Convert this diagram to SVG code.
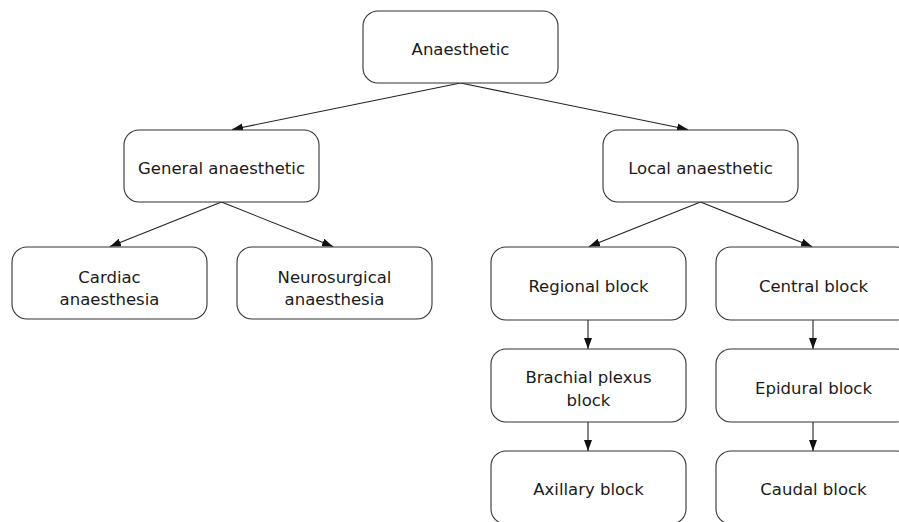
<svg xmlns="http://www.w3.org/2000/svg" width="899" height="522" viewBox="0 0 899 522">
<style>
.box{fill:#fff;stroke:#333;stroke-width:1.1}
.lbl{font-family:"DejaVu Sans","Liberation Sans",sans-serif;font-size:16.5px;fill:#1a1a1a;text-anchor:middle}
.edge{stroke:#222;stroke-width:1.1;fill:none;marker-end:url(#ah)}
</style>
<defs>
<marker id="ah" viewBox="0 0 11 8" refX="11" refY="4" markerWidth="11" markerHeight="8" markerUnits="userSpaceOnUse" orient="auto">
<path d="M0,0 L11,4 L0,8 Z" fill="#111"/>
</marker>
</defs>
<rect width="899" height="522" fill="#fff"/>
<g id="connectors">
<line class="edge" x1="460.5" y1="83" x2="232" y2="129.5"/>
<line class="edge" x1="460.5" y1="83" x2="688" y2="129.5"/>
<line class="edge" x1="221.5" y1="202" x2="110" y2="246.5"/>
<line class="edge" x1="221.5" y1="202" x2="333" y2="246.5"/>
<line class="edge" x1="700.5" y1="202" x2="589" y2="246.5"/>
<line class="edge" x1="700.5" y1="202" x2="812" y2="246.5"/>
<line class="edge" x1="588" y1="320" x2="588" y2="349"/>
<line class="edge" x1="588" y1="422" x2="588" y2="451"/>
<line class="edge" x1="813" y1="320" x2="813" y2="349"/>
<line class="edge" x1="813" y1="422" x2="813" y2="451"/>
</g>
<g id="anaesthetic">
<rect class="box" x="363" y="11" width="195" height="72" rx="15"/>
<text class="lbl" x="460.5" y="55">Anaesthetic</text>
</g>
<g id="general">
<rect class="box" x="124" y="130" width="195" height="72" rx="15"/>
<text class="lbl" x="221.5" y="174">General anaesthetic</text>
</g>
<g id="local">
<rect class="box" x="603" y="130" width="195" height="72" rx="15"/>
<text class="lbl" x="700.5" y="174">Local anaesthetic</text>
</g>
<g id="cardiac">
<rect class="box" x="12" y="247" width="195" height="72" rx="15"/>
<text class="lbl" x="109.5" y="283">Cardiac</text>
<text class="lbl" x="109.5" y="305">anaesthesia</text>
</g>
<g id="neurosurgical">
<rect class="box" x="237" y="247" width="195" height="72" rx="15"/>
<text class="lbl" x="334.5" y="283">Neurosurgical</text>
<text class="lbl" x="334.5" y="305">anaesthesia</text>
</g>
<g id="regional">
<rect class="box" x="491" y="247" width="195" height="73" rx="15"/>
<text class="lbl" x="588.5" y="291.5">Regional block</text>
</g>
<g id="central">
<rect class="box" x="716" y="247" width="195" height="73" rx="15"/>
<text class="lbl" x="813.5" y="291.5">Central block</text>
</g>
<g id="brachial">
<rect class="box" x="491" y="349" width="195" height="73" rx="15"/>
<text class="lbl" x="588.5" y="383">Brachial plexus</text>
<text class="lbl" x="588.5" y="406">block</text>
</g>
<g id="epidural">
<rect class="box" x="716" y="349" width="195" height="73" rx="15"/>
<text class="lbl" x="813.5" y="394">Epidural block</text>
</g>
<g id="axillary">
<rect class="box" x="491" y="451" width="195" height="73" rx="15"/>
<text class="lbl" x="588.5" y="495">Axillary block</text>
</g>
<g id="caudal">
<rect class="box" x="716" y="451" width="195" height="73" rx="15"/>
<text class="lbl" x="813.5" y="495">Caudal block</text>
</g>
</svg>
